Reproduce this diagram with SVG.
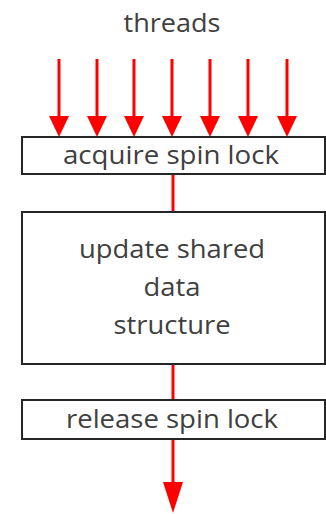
<svg xmlns="http://www.w3.org/2000/svg" width="326" height="514" viewBox="0 0 326 514">
<style>
.box{fill:#fff;stroke:#262626;stroke-width:2}
.t{font-family:"Open Sans","Liberation Sans",sans-serif;font-size:26px;fill:#404040;text-anchor:middle}
.c{stroke:#ff0000;stroke-width:3;fill:none}
.h{fill:#ff0000}
</style>
<rect width="326" height="514" fill="#fff"/>
<text class="t" x="172" y="32" textLength="97" lengthAdjust="spacingAndGlyphs">threads</text>
<g id="connectors">
<g id="threads-in">
<line class="c" x1="59" y1="59" x2="59" y2="118"/><polygon class="h" points="49,116 69,116 59,137"/>
<line class="c" x1="97" y1="59" x2="97" y2="118"/><polygon class="h" points="87,116 107,116 97,137"/>
<line class="c" x1="134" y1="59" x2="134" y2="118"/><polygon class="h" points="124,116 144,116 134,137"/>
<line class="c" x1="172" y1="59" x2="172" y2="118"/><polygon class="h" points="162,116 182,116 172,137"/>
<line class="c" x1="210" y1="59" x2="210" y2="118"/><polygon class="h" points="200,116 220,116 210,137"/>
<line class="c" x1="248" y1="59" x2="248" y2="118"/><polygon class="h" points="238,116 258,116 248,137"/>
<line class="c" x1="287" y1="59" x2="287" y2="118"/><polygon class="h" points="277,116 297,116 287,137"/>
</g>
<line class="c" x1="173" y1="174" x2="173" y2="212"/>
<line class="c" x1="173" y1="364" x2="173" y2="400"/>
<line class="c" x1="173" y1="439" x2="173" y2="484"/>
<polygon class="h" points="163,482 183,482 173,513"/>
</g>
<g id="acquire">
<rect class="box" x="22" y="137" width="303" height="37"/>
<text class="t" x="171" y="164" textLength="216" lengthAdjust="spacingAndGlyphs">acquire spin lock</text>
</g>
<g id="update">
<rect class="box" x="22" y="212" width="303" height="152"/>
<text class="t" x="172" y="258" textLength="186" lengthAdjust="spacingAndGlyphs">update shared</text>
<text class="t" x="172" y="296" textLength="57" lengthAdjust="spacingAndGlyphs">data</text>
<text class="t" x="172" y="334" textLength="117" lengthAdjust="spacingAndGlyphs">structure</text>
</g>
<g id="release">
<rect class="box" x="22" y="400" width="303" height="39"/>
<text class="t" x="172" y="428" textLength="212" lengthAdjust="spacingAndGlyphs">release spin lock</text>
</g>
</svg>
